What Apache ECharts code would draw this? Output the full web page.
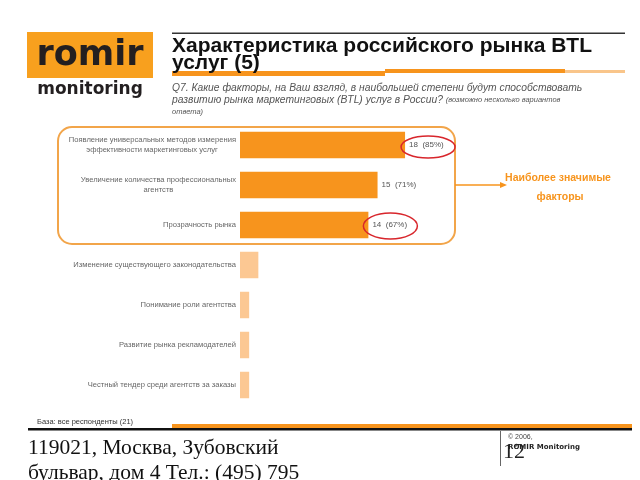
<!DOCTYPE html>
<html><head><meta charset="utf-8">
<script src="https://cdn.jsdelivr.net/npm/echarts@6/dist/echarts.min.js"></script>
<style>html,body{margin:0;padding:0;background:#fff}#c{width:640px;height:480px}</style>
</head><body><div id="c"></div>
<script>
const categories = [
  "Появление универсальных методов измерения\nэффективности маркетинговых услуг",
  "Увеличение количества профессиональных\nагентств",
  "Прозрачность рынка",
  "Изменение существующего законодательства",
  "Понимание роли агентства",
  "Развитие рынка рекламодателей",
  "Честный тендер среди агентств за заказы"
];
const counts = [18, 15, 14, 2, 1, 1, 1];
const percents = [85, 71, 67, null, null, null, null];
const highlighted = [true, true, true, false, false, false, false];

const ORANGE = '#F7941D', LIGHT = '#FCC893';
const chart = echarts.init(document.getElementById('c'), null, {renderer:'canvas'});

const lineWidths = [168, 151];
function fmtLabel(v, i) {
  const parts = v.split('\n');
  if (parts.length === 1) return v;
  return '{l|' + parts[0] + '}\n{c' + i + '|' + parts[1] + '}';
}

const option = {
  backgroundColor: '#fff',
  animation: false,
  grid: {left: 240, top: 125, width: 183.4, height: 280, containLabel: false},
  xAxis: {type: 'value', min: 0, max: 20, show: false},
  yAxis: {
    type: 'category', data: categories, inverse: true,
    axisLine: {show: false}, axisTick: {show: false},
    axisLabel: {
      fontFamily: 'Liberation Sans, Arial', fontSize: 7.6, color: '#666', margin: 4, lineHeight: 10,
      formatter: fmtLabel,
      rich: {
        l: {fontFamily: 'Liberation Sans', fontSize: 7.6, color: '#666', lineHeight: 10},
        c0: {fontFamily: 'Liberation Sans', fontSize: 7.6, color: '#666', lineHeight: 10, width: lineWidths[0], align: 'center'},
        c1: {fontFamily: 'Liberation Sans', fontSize: 7.6, color: '#666', lineHeight: 10, width: lineWidths[1], align: 'center'}
      }
    }
  },
  series: [{
    type: 'bar', barWidth: 26.5,
    data: counts.map((v, i) => ({value: v, itemStyle: {color: highlighted[i] ? ORANGE : LIGHT}})),
    label: {
      show: true, position: 'right', distance: 4,
      fontFamily: 'Liberation Sans', fontSize: 8, color: '#555',
      formatter: p => percents[p.dataIndex] == null ? '' : p.value + '  (' + percents[p.dataIndex] + '%)'
    }
  }]
};
chart.setOption(option);

const e1 = chart.convertToPixel({gridIndex: 0}, [counts[0], 0]);
const e3 = chart.convertToPixel({gridIndex: 0}, [counts[2], 2]);

chart.setOption({
  graphic: [
    // logo
    {type: 'rect', shape: {x: 27, y: 32, width: 126, height: 46}, style: {fill: '#F8A01E'}},
    {type: 'text', x: 90, y: 56, style: {text: 'romir', font: 'bold 35px "DejaVu Sans"', fill: '#231F20', align: 'center', verticalAlign: 'middle'}},
    {type: 'text', x: 90, y: 90, style: {text: 'monitoring', font: 'bold 17px "DejaVu Sans"', fill: '#231F20', align: 'center', verticalAlign: 'middle'}},
    // header lines
    {type: 'rect', shape: {x: 172, y: 32.5, width: 453, height: 1.5}, style: {fill: '#333'}},
    {type: 'rect', shape: {x: 172, y: 71, width: 213, height: 5}, style: {fill: ORANGE}},
    {type: 'rect', shape: {x: 385, y: 69, width: 180, height: 4}, style: {fill: ORANGE}},
    {type: 'rect', shape: {x: 565, y: 70, width: 60, height: 3}, style: {fill: '#F9C58A'}},
    // title
    {type: 'text', x: 172, y: 38, style: {text: 'Характеристика российского рынка BTL\nуслуг (5)', font: 'bold 21px "Liberation Sans"', lineHeight: 16.5, fill: '#111'}},
    // question
    {type: 'text', x: 172, y: 82, style: {
      text: '{q|Q7. Какие факторы, на Ваш взгляд, в наибольшей степени будут способствовать}\n{q|развитию рынка маркетинговых (BTL) услуг в России? }{s|(возможно несколько вариантов}\n{s|ответа)}',
      rich: {
        q: {font: 'italic 10.3px "Liberation Sans"', fill: '#555', lineHeight: 12},
        s: {font: 'italic 7.5px "Liberation Sans"', fill: '#555', lineHeight: 12}
      }}},
    // highlight box
    {type: 'rect', shape: {x: 58, y: 127, width: 397, height: 117, r: 14}, style: {fill: 'none', stroke: '#F2A54A', lineWidth: 2}},
    {type: 'line', shape: {x1: 455, y1: 185, x2: 503, y2: 185}, style: {stroke: ORANGE, lineWidth: 1.5}},
    {type: 'polygon', shape: {points: [[507, 185], [500, 182], [500, 188]]}, style: {fill: ORANGE}},
    {type: 'text', x: 558, y: 178, style: {text: 'Наиболее значимые', font: 'bold 10.5px "Liberation Sans"', fill: ORANGE, align: 'center', verticalAlign: 'middle'}},
    {type: 'text', x: 560, y: 197, style: {text: 'факторы', font: 'bold 10.5px "Liberation Sans"', fill: ORANGE, align: 'center', verticalAlign: 'middle'}},
    // red ellipses
    {type: 'ellipse', shape: {cx: e1[0] + 23, cy: e1[1] + 2, rx: 27, ry: 11}, style: {fill: 'none', stroke: '#D8262C', lineWidth: 1.5}, z: 10},
    {type: 'ellipse', shape: {cx: e3[0] + 22, cy: e3[1] + 1, rx: 27, ry: 13}, style: {fill: 'none', stroke: '#D8262C', lineWidth: 1.5}, z: 10},
    // footer
    {type: 'text', x: 37, y: 418, style: {text: 'База: все респонденты (21)', font: '7.5px "Liberation Sans"', fill: '#333'}},
    {type: 'rect', shape: {x: 172, y: 424, width: 460, height: 4}, style: {fill: ORANGE}},
    {type: 'rect', shape: {x: 28, y: 428, width: 604, height: 2.5}, style: {fill: '#111'}},
    {type: 'text', x: 28, y: 436, style: {text: '119021, Москва, Зубовский\nбульвар, дом 4 Тел.: (495) 795', font: '21.5px "Liberation Serif"', lineHeight: 25, fill: '#111'}},
    {type: 'line', shape: {x1: 500.5, y1: 431, x2: 500.5, y2: 466}, style: {stroke: '#666', lineWidth: 1}},
    {type: 'text', x: 503, y: 441, style: {text: '12', font: '22px "Liberation Serif"', fill: '#222'}},
    {type: 'text', x: 508, y: 434, style: {text: '© 2006,', font: '7px "Liberation Sans"', fill: '#444'}, z: 11},
    {type: 'text', x: 508, y: 444, style: {text: 'ROMIR Monitoring', font: 'bold 7px "DejaVu Sans"', fill: '#222'}, z: 11}
  ]
});
</script></body></html>
